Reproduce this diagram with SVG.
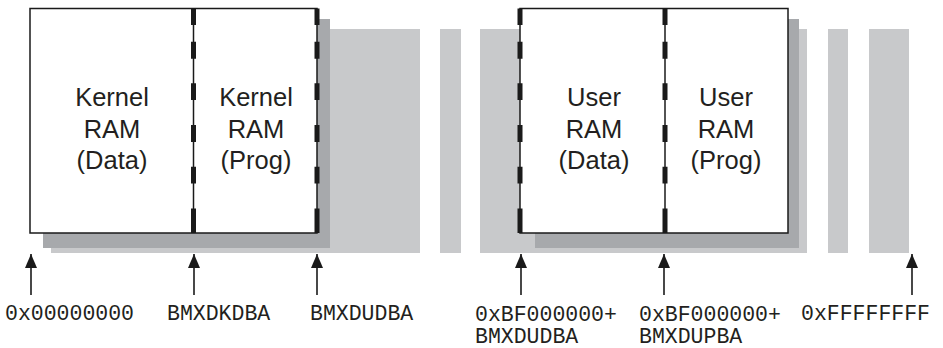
<svg xmlns="http://www.w3.org/2000/svg" width="943" height="348" viewBox="0 0 943 348">
<style>
.lt{fill:#c8c9cb}
.dk{fill:#a7a9ac}
.box{fill:#fff;stroke:#1a1a1a;stroke-width:1.5}
.div{stroke:#1a1a1a;stroke-width:1.5}
.dash{stroke:#1a1a1a;stroke-width:5;fill:none}
.lbl{font-family:"Liberation Sans",Arial,sans-serif;font-size:25.5px;fill:#231f20;text-anchor:middle}
.addr{font-family:"Liberation Mono","Courier New",monospace;font-size:21.5px;fill:#231f20}
.arr{stroke:#1a1a1a;stroke-width:1.6;fill:none}
</style>
<defs>
<path id="dsh" class="dash" d="M0 8.5V25M0 41.7V58.7M0 83.3V100M0 125V142M0 166.7V183.5M0 208.5V233"/>
<marker id="ah" markerWidth="14" markerHeight="12" refX="14" refY="6" orient="auto" markerUnits="userSpaceOnUse" viewBox="0 0 14 12">
<path d="M0 0L14 6L0 12Z" fill="#1a1a1a"/>
</marker>
</defs>
<g id="background">
<rect class="lt" x="51" y="29" width="369" height="224"/>
<rect class="lt" x="440" y="29" width="21" height="224"/>
<rect class="lt" x="480" y="29" width="327" height="224"/>
<rect class="lt" x="828" y="29" width="20" height="224"/>
<rect class="lt" x="869" y="29" width="40" height="224"/>
<rect class="dk" x="43" y="19" width="287" height="229"/>
<rect class="dk" x="535" y="19" width="264" height="229"/>
</g>
<g id="kernel-ram">
<rect class="box" x="30" y="8.5" width="287" height="224.5"/>
<line class="div" x1="193.5" y1="8.5" x2="193.5" y2="233"/>
<use href="#dsh" x="193.5"/>
<use href="#dsh" x="317"/>
</g>
<g id="kernel-data">
<text class="lbl" x="112" y="106">Kernel</text>
<text class="lbl" x="112" y="138">RAM</text>
<text class="lbl" x="112" y="169">(Data)</text>
</g>
<g id="kernel-prog">
<text class="lbl" x="256" y="106">Kernel</text>
<text class="lbl" x="256" y="138">RAM</text>
<text class="lbl" x="256" y="169">(Prog)</text>
</g>
<g id="user-ram">
<rect class="box" x="520" y="8.5" width="268" height="224.5"/>
<line class="div" x1="665" y1="8.5" x2="665" y2="233"/>
<use href="#dsh" x="520"/>
<use href="#dsh" x="665"/>
</g>
<g id="user-data">
<text class="lbl" x="594" y="106">User</text>
<text class="lbl" x="594" y="138">RAM</text>
<text class="lbl" x="594" y="169">(Data)</text>
</g>
<g id="user-prog">
<text class="lbl" x="726" y="106">User</text>
<text class="lbl" x="726" y="138">RAM</text>
<text class="lbl" x="726" y="169">(Prog)</text>
</g>
<g id="connectors">
<line class="arr" x1="31" y1="295" x2="31" y2="254" marker-end="url(#ah)"/>
<line class="arr" x1="194" y1="295" x2="194" y2="254" marker-end="url(#ah)"/>
<line class="arr" x1="317" y1="295" x2="317" y2="254" marker-end="url(#ah)"/>
<line class="arr" x1="521" y1="295" x2="521" y2="254" marker-end="url(#ah)"/>
<line class="arr" x1="664" y1="295" x2="664" y2="254" marker-end="url(#ah)"/>
<line class="arr" x1="912" y1="295" x2="912" y2="254" marker-end="url(#ah)"/>
</g>
<g id="addresses">
<text class="addr" x="5" y="320">0x00000000</text>
<text class="addr" x="167" y="320">BMXDKDBA</text>
<text class="addr" x="310" y="320">BMXDUDBA</text>
<text class="addr" x="475" y="321">0xBF000000+</text>
<text class="addr" x="475" y="343">BMXDUDBA</text>
<text class="addr" x="639" y="321">0xBF000000+</text>
<text class="addr" x="639" y="343">BMXDUPBA</text>
<text class="addr" x="801" y="320">0xFFFFFFFF</text>
</g>
</svg>
